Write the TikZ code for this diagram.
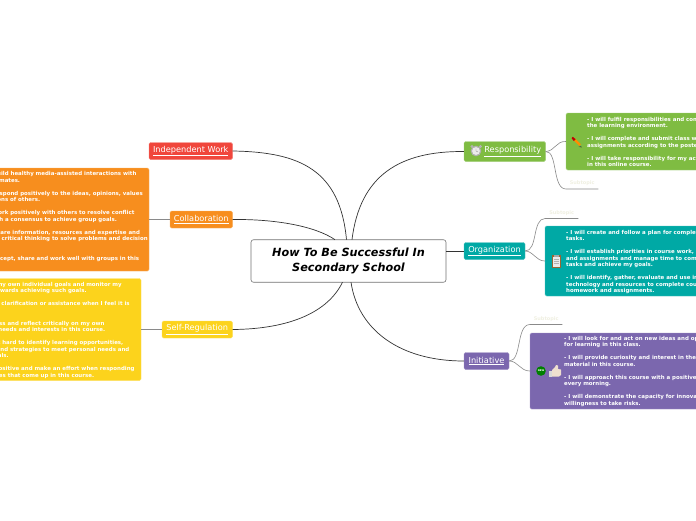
\documentclass[tikz,border=0pt]{standalone}
\usepackage{fontspec}
\setmainfont{DejaVu Sans}
\definecolor{cred}{HTML}{F0463C}
\definecolor{corange}{HTML}{F78E1E}
\definecolor{cyellow}{HTML}{FCD31C}
\definecolor{cgreen}{HTML}{7FBC42}
\definecolor{cteal}{HTML}{00A9A5}
\definecolor{cpurple}{HTML}{7B67AE}
\definecolor{cfaint}{HTML}{F0F0E2}
\definecolor{linedark}{HTML}{333333}
\definecolor{linegrey}{HTML}{8A8A8A}
\tikzset{
  x=1pt,y=-1pt,
  bodytext/.style={anchor=north west,inner sep=0pt,text=white,align=left,font=\fontsize{5.45}{6.5}\selectfont\bfseries},
  main/.style={line width=0.7pt,draw=linedark},
  minor/.style={line width=0.6pt,draw=linegrey},
  subtopic/.style={anchor=south west,inner sep=0pt,text=cfaint,font=\fontsize{5}{6}\selectfont\bfseries,minimum height=9pt,text depth=3pt},
}
\newcommand{\tlabel}[1]{\fontsize{8.2}{10}\selectfont\color{white}\underline{#1}}
\newcommand{\tbox}[7]{% name x1 y1 x2 y2 colour text
  \path[fill=#6,draw=#6!70!white,line width=0.4pt,rounded corners=1.5pt] (#2,#3) rectangle (#4,#5);
  \node[inner sep=0pt,minimum width=#4pt-#2pt,minimum height=#5pt-#3pt] (#1) at ({(#2+#4)/2},{(#3+#5)/2}) {#7};}
\begin{document}
\begin{tikzpicture}
\useasboundingbox (0,0) rectangle (696,520);
\clip (0,0) rectangle (696,520);
\fill[white] (0,0) rectangle (696,520);
% central
\node[draw=black!55,fill=white,rounded corners=2.5pt,line width=0.6pt,minimum width=195pt,minimum height=42.5pt,inner sep=0pt,align=center,font=\fontsize{11.25}{14.4}\selectfont\bfseries\itshape] (c) at (348.5,261) {How To Be Successful In\\Secondary School};
\coordinate (cA) at (346.5,239.7);
\coordinate (cB) at (335,239.7);
\coordinate (cC) at (342.5,282.2);
\coordinate (cD) at (352,239.7);
\coordinate (cE) at (351,282.2);
% topics
\tbox{ind}{149}{142.5}{232.5}{159.5}{cred}{\tlabel{Independent Work}}
\tbox{col}{170}{211}{232.5}{228}{corange}{\tlabel{Collaboration}}
\tbox{sel}{162}{321}{232.5}{338}{cyellow}{\tlabel{Self-Regulation}}
\tbox{res}{464}{141.5}{545.5}{161.5}{cgreen}{\hspace*{16pt}\tlabel{Responsibility}}
\tbox{org}{464}{242.5}{525}{259.5}{cteal}{\tlabel{Organization}}
\tbox{ini}{464}{352.5}{509}{369.5}{cpurple}{\tlabel{Initiative}}
% detail boxes
\tbox{colD}{-10}{168}{149}{271}{corange}{}
\tbox{selD}{-10}{278.5}{141}{380.5}{cyellow}{}
\tbox{resD}{566}{113}{710}{170}{cgreen}{}
\tbox{orgD}{545}{226}{710}{296}{cteal}{}
\tbox{iniD}{530}{333}{710}{409}{cpurple}{}
\node[bodytext] (colT) at (-27.5,171.5) {- I will build healthy media-assisted interactions with\\my classmates.\\[6.5pt]- I will respond positively to the ideas, opinions, values\\and actions of others.\\[6.5pt]- I will work positively with others to resolve conflict\\and reach a consensus to achieve group goals.\\[6.5pt]- I will share information, resources and expertise and\\will offer critical thinking to solve problems and decision\\making.\\[6.5pt]- I will accept, share and work well with groups in this\\course.};
\node[bodytext] (selT) at (-35.5,282) {- I will set my own individual goals and monitor my\\progress towards achieving such goals.\\[6.5pt]- I will seek clarification or assistance when I feel it is\\needed.\\[6.5pt]- I will assess and reflect critically on my own\\strengths, needs and interests in this course.\\[6.5pt]- I will work hard to identify learning opportunities,\\resources and strategies to meet personal needs and\\achieve goals.\\[6.5pt]- I will be positive and make an effort when responding\\to challenges that come up in this course.};
\node[bodytext] (resT) at (587,116.7) {- I will fulfil responsibilities and commitments within\\the learning environment.\\[6.5pt]- I will complete and submit class work, homework and\\assignments according to the posted timelines.\\[6.5pt]- I will take responsibility for my actions and behaviour\\in this online course.};
\node[bodytext] (orgT) at (566,229.7) {- I will create and follow a plan for completing work and\\tasks.\\[6.5pt]- I will establish priorities in course work, homework\\and assignments and manage time to complete all of my\\tasks and achieve my goals.\\[6.5pt]- I will identify, gather, evaluate and use information,\\technology and resources to complete course work,\\homework and assignments.};
\node[bodytext] (iniT) at (564,336) {- I will look for and act on new ideas and opportunities\\for learning in this class.\\[6.5pt]- I will provide curiosity and interest in the course\\material in this course.\\[6.5pt]- I will approach this course with a positive attitude\\every morning.\\[6.5pt]- I will demonstrate the capacity for innovation and a\\willingness to take risks.};
% subtopics
\node[subtopic,minimum width=32pt] (s1) at (566,189) {Subtopic};
\node[subtopic,minimum width=33pt] (s2) at (545,218.5) {Subtopic};
\node[subtopic,minimum width=32pt] (s3) at (530,324.5) {Subtopic};
% main connectors
\draw[main] (ind.east) .. controls (300,152) and (340,170) .. (cA);
\draw[main] (col.east) .. controls (275,219) and (315,226) .. (cB);
\draw[main] (sel.east) .. controls (290,329) and (328,312) .. (cC);
\draw[main] (res.west) .. controls (400,151) and (360,175) .. (cD);
\draw[main] (org.west) -- (org.west -| c.east);
\draw[main] (ini.west) .. controls (400,361) and (358,330) .. (cE);
% minor connectors
\draw[minor] (col.west) -- (col.west -| colD.east);
\draw[minor] (sel.west) -- (sel.west -| selD.east);
\draw[minor] (res.east) .. controls (555,151) and (556,141) .. (resD.west);
\draw[minor] (res.east) .. controls (558,151) and (552,189) .. (s1.south west) -- (s1.south east);
\draw[minor] (org.east) .. controls (538,251) and (532,218.5) .. (s2.south west) -- (s2.south east);
\draw[minor] (org.east) .. controls (533,251) and (536,261) .. (orgD.west);
\draw[minor] (ini.east) .. controls (522,361) and (516,324.5) .. (s3.south west) -- (s3.south east);
\draw[minor] (ini.east) .. controls (518,361) and (520,371) .. (iniD.west);
% alarm clock icon
\fill[black!30] (472,146.5) circle (1.6pt) (480.5,146.5) circle (1.6pt);
\fill[black!30] (476,151) circle (5.3pt);
\fill[black!8] (476,151) circle (3.9pt);
\draw[black!45,line width=0.4pt] (476,151) -- (476,148.5) (476,151) -- (478,152);
% pencil icon
\draw[line width=2.2pt,draw=orange!90!yellow] (574.5,139.5) -- (580,145);
\fill[red!75!black] (572.8,136.8) -- (575.6,139.2) -- (573.8,141) -- (571.6,138.2) -- cycle;
\fill[black!75] (581,146.2) -- (578.6,146.8) -- (581.8,147.4) -- cycle;
% clipboard icon
\fill[brown!80!black] (551.5,255) rectangle (561,267.5);
\fill[black!8] (552.8,256.5) rectangle (559.8,266.5);
\fill[black!35] (554,254.5) rectangle (558.5,256.5);
\draw[black!30,line width=0.3pt] (554,259) -- (558.5,259) (554,261) -- (558.5,261) (554,263) -- (558.5,263);
% new badge
\fill[green!50!black] (541,371) circle (4.8pt);
\node[inner sep=0pt,text=white,font=\fontsize{2.4}{3}\selectfont\bfseries] (newtxt) at (541,371) {NEW};
% thumb icon
\fill[white!85!black] (549,370.5) rectangle (552,376.5);
\fill[brown!25!white] (552,370) -- (555,367) -- (556,365) -- (558,365.5) -- (558,369) -- (561,369.5) -- (561,375) -- (559,376.5) -- (552,376.5) -- cycle;
\end{tikzpicture}
\end{document}
